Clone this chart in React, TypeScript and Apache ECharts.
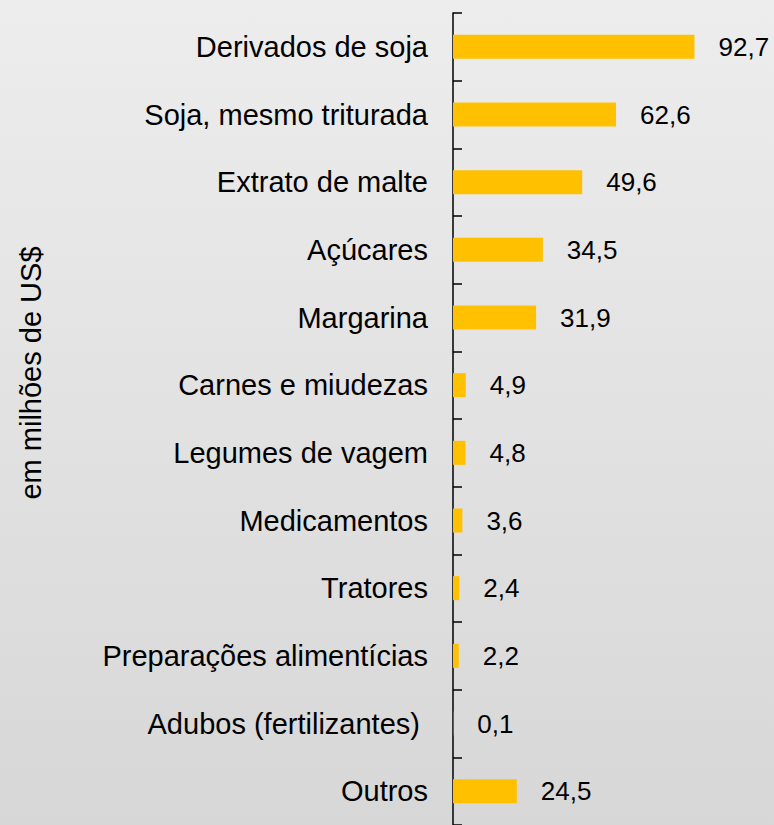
import React, { useEffect, useRef } from "react";
import * as echarts from "echarts";

const categories: string[] = [
  "Derivados de soja",
  "Soja, mesmo triturada",
  "Extrato de malte",
  "Açúcares",
  "Margarina",
  "Carnes e miudezas",
  "Legumes de vagem",
  "Medicamentos",
  "Tratores",
  "Preparações alimentícias",
  "Adubos (fertilizantes) ",
  "Outros",
];

const values: number[] = [92.7, 62.6, 49.6, 34.5, 31.9, 4.9, 4.8, 3.6, 2.4, 2.2, 0.1, 24.5];

const axisTitle = "em milhões de US$";

const FONT = "'Liberation Sans', Arial, sans-serif";

export default function App() {
  const ref = useRef<HTMLDivElement>(null);

  useEffect(() => {
    if (!ref.current) return;
    const chart = echarts.init(ref.current, null, { renderer: "svg" });
    chart.setOption({
      animation: false,
      backgroundColor: {
        type: "linear",
        x: 0,
        y: 0,
        x2: 0,
        y2: 1,
        colorStops: [
          { offset: 0, color: "#ededed" },
          { offset: 1, color: "#d7d7d7" },
        ],
      },
      grid: {
        left: 453,
        top: 13,
        width: 260.5,
        height: 816,
        containLabel: false,
      },
      xAxis: {
        type: "value",
        min: 0,
        max: 100,
        show: false,
      },
      yAxis: {
        type: "category",
        data: categories,
        inverse: true,
        axisLine: { show: true, lineStyle: { color: "#000", width: 1.5 } },
        axisTick: { show: true, inside: true, length: 9, lineStyle: { color: "#000", width: 1.5 } },
        axisLabel: {
          margin: 25,
          color: "#000",
          fontSize: 29,
          fontFamily: FONT,
        },
        splitLine: { show: false },
      },
      series: [
        {
          type: "bar",
          data: values,
          barWidth: 24,
          itemStyle: { color: "#FFC000" },
          label: {
            show: true,
            position: "right",
            distance: 24,
            color: "#000",
            fontSize: 26,
            fontFamily: FONT,
            formatter: (p: any) => String(p.value).replace(".", ","),
          },
        },
      ],
      graphic: [
        {
          type: "text",
          x: 31,
          y: 373,
          rotation: Math.PI / 2,
          style: {
            text: axisTitle,
            fontSize: 29,
            fontFamily: FONT,
            fill: "#000",
            align: "center",
            verticalAlign: "middle",
          },
        },
      ],
    });
    return () => chart.dispose();
  }, []);

  return (
    <div
      ref={ref}
      style={{ position: "fixed", left: 0, top: 0, width: 774, height: 825 }}
    />
  );
}
